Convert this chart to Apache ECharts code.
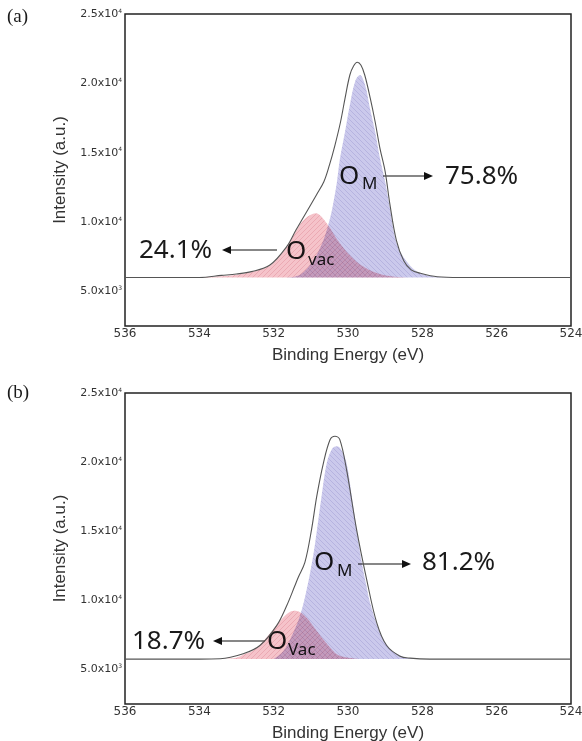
<!DOCTYPE html>
<html>
<head>
<meta charset="utf-8">
<script src="https://cdn.jsdelivr.net/npm/echarts@6/dist/echarts.min.js"></script>
<style>
  html, body { margin: 0; padding: 0; background: #fff; }
  #chart { width: 582px; height: 741px; }
</style>
</head>
<body>
<div id="chart"></div>
<script>
// x ticks / y ticks
const energyTicks = [536, 534, 532, 530, 528, 526, 524]
const intensityTicks = [5000, 10000, 15000, 20000, 25000]

// panel (a)
const baseA = 6000
const envEA = [536, 534.0, 533.4, 533.0, 532.6, 532.1, 531.65, 531.4, 531.1, 530.85, 530.65, 530.5, 530.35, 530.2, 530.08, 529.95, 529.85, 529.75, 529.65, 529.55, 529.4, 529.27, 529.14, 529.0, 528.87, 528.7, 528.5, 528.3, 528.05, 527.6, 527.0, 524]
const envA = [6000, 6000, 6150, 6250, 6420, 6900, 8220, 9420, 10800, 11950, 12900, 14100, 15550, 17230, 18920, 20600, 21250, 21520, 21300, 20600, 18920, 17230, 15310, 13630, 11230, 8700, 7200, 6550, 6300, 6050, 6000, 6000]
const omEA = [531.7, 531.3, 530.93, 530.66, 530.48, 530.4, 530.3, 530.22, 530.08, 529.95, 529.81, 529.68, 529.54, 529.41, 529.27, 529.14, 529.0, 528.87, 528.69, 528.42, 528.06, 527.6, 527.2]
const omA = [6000, 6180, 7260, 8700, 10300, 11300, 12850, 14500, 16510, 18440, 20120, 20600, 19880, 18200, 16510, 14590, 12900, 10990, 8460, 7140, 6300, 6050, 6000]
const vacEA = [534.0, 533.4, 533.0, 532.64, 532.1, 531.9, 531.65, 531.4, 531.15, 530.87, 530.57, 530.22, 529.77, 529.32, 528.87, 528.4, 528.0]
const vacA = [6000, 6080, 6200, 6380, 6850, 7400, 8150, 9350, 10250, 10630, 9900, 8460, 7140, 6420, 6100, 6000, 6000]

// panel (b)
const baseB = 5750
const envEB = [536, 534.0, 533.44, 532.82, 532.37, 531.92, 531.65, 531.43, 531.34, 531.16, 530.98, 530.84, 530.66, 530.48, 530.35, 530.22, 530.04, 529.77, 529.5, 529.23, 528.96, 528.6, 528.33, 527.8, 524]
const envB = [5750, 5750, 5770, 6130, 6730, 8170, 9610, 11050, 11650, 12740, 15140, 17540, 19950, 21630, 21870, 21630, 19470, 15140, 11540, 8410, 6730, 5960, 5820, 5750, 5750]
const omEB = [532.0, 531.75, 531.5, 531.29, 531.11, 530.93, 530.84, 530.71, 530.57, 530.42, 530.3, 530.18, 530.04, 529.9, 529.77, 529.63, 529.5, 529.41, 529.14, 528.87, 528.6, 528.42, 528.0]
const omB = [5750, 6300, 7500, 8900, 10800, 13340, 15000, 17540, 19950, 21000, 21150, 20900, 19950, 17540, 15140, 12740, 11000, 9860, 7690, 6490, 6000, 5820, 5750]
const vacEB = [533.4, 533.0, 532.8, 532.6, 532.4, 532.2, 532.0, 531.8, 531.6, 531.45, 531.3, 531.1, 530.9, 530.7, 530.5, 530.3, 530.1, 529.8, 529.5]
const vacB = [5760, 5850, 6100, 6300, 6700, 7300, 7950, 8600, 9100, 9250, 9150, 8700, 8000, 7300, 6650, 6100, 5900, 5780, 5750]

const pair = (xs, ys) => xs.map((x, i) => [x, ys[i]])

// hatch pattern for the fitted peaks
function hatch (bg, line, dir) {
  const c = document.createElement('canvas')
  c.width = 5
  c.height = 5
  const g = c.getContext('2d')
  g.fillStyle = bg
  g.fillRect(0, 0, 5, 5)
  g.strokeStyle = line
  g.lineWidth = 1
  g.beginPath()
  if (dir > 0) {
    g.moveTo(0, 5); g.lineTo(5, 0)
    g.moveTo(-1, 1); g.lineTo(1, -1)
    g.moveTo(4, 6); g.lineTo(6, 4)
  } else {
    g.moveTo(0, 0); g.lineTo(5, 5)
    g.moveTo(4, -1); g.lineTo(6, 1)
    g.moveTo(-1, 4); g.lineTo(1, 6)
  }
  g.stroke()
  return c
}
const pinkFill = { image: hatch('#F5C3CA', '#EBA9B3', 1), repeat: 'repeat' }
const lavFill = { image: hatch('#CBC9EC', '#B6B3E0', -1), repeat: 'repeat' }

const chart = echarts.init(document.getElementById('chart'))

function sci (v) {
  if (v % 5000 !== 0) return ''
  const e = Math.floor(Math.log10(v))
  const m = (v / Math.pow(10, e)).toFixed(1)
  return m + 'x10{s|' + e + '}'
}

function makeX (gi) {
  return {
    gridIndex: gi,
    type: 'value',
    min: energyTicks[energyTicks.length - 1],
    max: energyTicks[0],
    interval: 2,
    inverse: true,
    name: 'Binding Energy (eV)',
    nameLocation: 'middle',
    nameGap: 21,
    nameTextStyle: { fontFamily: 'Liberation Sans', fontSize: 17, color: '#333', verticalAlign: 'top' },
    axisLine: { show: false },
    axisTick: { show: false },
    splitLine: { show: false },
    axisLabel: { fontFamily: 'DejaVu Sans', fontSize: 12, color: '#333', margin: 2 },
  }
}
function makeY (gi) {
  return {
    gridIndex: gi,
    type: 'value',
    min: 2500,
    max: intensityTicks[intensityTicks.length - 1],
    interval: 2500,
    name: 'Intensity (a.u.)',
    nameLocation: 'middle',
    nameGap: 50,
    nameTextStyle: { fontFamily: 'Liberation Sans', fontSize: 17, color: '#333' },
    axisLine: { show: false },
    axisTick: { show: false },
    splitLine: { show: false },
    axisLabel: {
      fontFamily: 'DejaVu Sans', fontSize: 11, color: '#333', margin: 3,
      formatter: sci,
      rich: { s: { fontSize: 6, fontFamily: 'DejaVu Sans', color: '#333', verticalAlign: 'top', padding: [0, 0, 6, 0] } },
    },
  }
}

function peak (name, gi, xs, ys, base, fill) {
  return {
    name: name, type: 'line', xAxisIndex: gi, yAxisIndex: gi,
    data: pair(xs, ys), smooth: 0.35, showSymbol: false, silent: true,
    lineStyle: { width: 0, opacity: 0 },
    areaStyle: { color: fill, opacity: 1, origin: base },
  }
}
function envelope (gi, xs, ys) {
  return {
    name: 'envelope', type: 'line', xAxisIndex: gi, yAxisIndex: gi,
    data: pair(xs, ys), smooth: 0.35, showSymbol: false, silent: true, z: 5,
    lineStyle: { color: '#555', width: 1.1 },
  }
}

function arrow (x1, x2, y) {
  const d = x2 > x1 ? 1 : -1
  return [
    { type: 'line', shape: { x1: x1, y1: y, x2: x2 - d * 7, y2: y }, style: { stroke: '#111', lineWidth: 1.2 } },
    { type: 'polygon', shape: { points: [[x2, y], [x2 - d * 9, y - 4], [x2 - d * 9, y + 4]] }, style: { fill: '#111' } },
  ]
}
function txt (x, y, s, size, family, extra) {
  return {
    type: 'text', x: x, y: y,
    style: Object.assign({ text: s, fontSize: size, fontFamily: family, fill: '#1a1a1a', verticalAlign: 'middle', align: 'left' }, extra || {}),
  }
}
const sans = 'Noto Sans'

const option = {
  animation: false,
  grid: [
    { left: 125, top: 14, width: 446, height: 312, show: true, borderColor: '#222', borderWidth: 1.5, outerBoundsMode: 'none' },
    { left: 125, top: 393, width: 446, height: 311, show: true, borderColor: '#222', borderWidth: 1.5, outerBoundsMode: 'none' },
  ],
  xAxis: [makeX(0), makeX(1)],
  yAxis: [makeY(0), makeY(1)],
  series: [
    peak('Ovac a', 0, vacEA, vacA, baseA, pinkFill),
    peak('OM a', 0, omEA, omA, baseA, lavFill),
    envelope(0, envEA, envA),
    peak('Ovac b', 1, vacEB, vacB, baseB, pinkFill),
    peak('OM b', 1, omEB, omB, baseB, lavFill),
    envelope(1, envEB, envB),
  ],
  graphic: [
    txt(7, 17, '(a)', 19, 'Liberation Serif'),
    txt(7, 393, '(b)', 19, 'Liberation Serif'),
    // (a)
    txt(339, 177, 'O', 26, sans),
    txt(362, 184, 'M', 17, sans),
    ...arrow(383, 433, 176),
    txt(445, 177, '75.8%', 26, sans),
    txt(286, 252, 'O', 26, sans),
    txt(308, 260, 'vac', 17, sans),
    ...arrow(277, 222, 250),
    txt(139, 251, '24.1%', 26, sans),
    // (b)
    txt(314, 563, 'O', 26, sans),
    txt(337, 571, 'M', 17, sans),
    ...arrow(358, 411, 564),
    txt(422, 563, '81.2%', 26, sans),
    txt(267, 642, 'O', 26, sans),
    txt(288, 650, 'Vac', 17, sans),
    ...arrow(265, 213, 641),
    txt(132, 642, '18.7%', 26, sans),
  ],
}
chart.setOption(option)

// overlapping peaks are multiplied, so the shared region turns purple
const zr = chart.getZr()
zr.storage.getDisplayList(true).forEach(el => {
  const f = el.style && el.style.fill
  if (f && typeof f === 'object' && f.image) {
    el.style.blend = 'multiply'
    el.markRedraw()
  }
})
zr.refreshImmediately()
</script>
</body>
</html>
